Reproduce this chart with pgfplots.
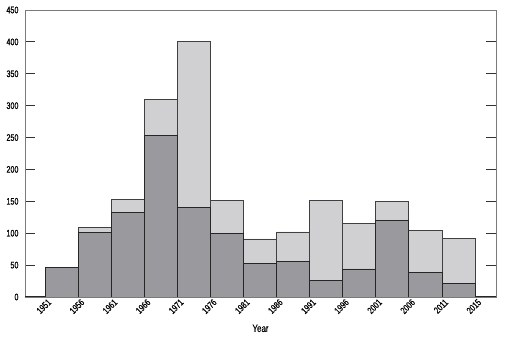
\documentclass[border=0pt]{standalone}
\usepackage{fontspec}
\setmainfont{Liberation Sans}[FakeStretch=0.76, FakeBold=0.6]
\usepackage{pgfplots}
\pgfplotsset{compat=1.18}
\definecolor{darkbar}{HTML}{9A9A9E}
\definecolor{lightbar}{HTML}{D0D0D3}
\definecolor{axgray}{HTML}{7A7A7A}
\begin{document}
\begin{tikzpicture}
\path[use as bounding box] (-25bp,-55bp) rectangle (492bp,297bp);
\begin{axis}[
  at={(0,0)}, anchor=south west,
  scale only axis, width=471bp, height=287bp,
  xmin=-0.605, xmax=13.635, ymin=0, ymax=450,
  ybar stacked, bar width=1, bar shift=0,
  xtick={0,...,13},
  xticklabels={1951,1956,1961,1966,1971,1976,1981,1986,1991,1996,2001,2006,2011,2015},
  xtick style={draw=none},
  ytick={0,50,...,450},
  ytick pos=both, tick align=inside,
  major tick length=10bp,
  ytick style={black!80, line width=0.8pt},
  axis line style={axgray, line width=0.8pt},
  /pgf/number format/assume math mode=true,
  tick label style={font=\fontsize{9.5}{10}\selectfont},
  yticklabel style={xshift=-3bp},
  xticklabel style={rotate=45, anchor=north east, xshift=4bp, yshift=1bp},
  xlabel={Year},
  xlabel style={font=\fontsize{10.5}{12}\selectfont, yshift=-2bp},
]
\addplot[fill=darkbar, draw=black!85, line width=0.8pt] coordinates {
(0.5,46) (1.5,101) (2.5,132) (3.5,253) (4.5,140) (5.5,100) (6.5,52)
(7.5,56) (8.5,26) (9.5,44) (10.5,120) (11.5,39) (12.5,21)};
\addplot[fill=lightbar, draw=black!75, line width=0.8pt] coordinates {
(0.5,0) (1.5,8) (2.5,21) (3.5,57) (4.5,260) (5.5,51) (6.5,39)
(7.5,46) (8.5,125) (9.5,72) (10.5,30) (11.5,65) (12.5,71)};
\draw[black!85, line width=1.2pt] (rel axis cs:0,0) -- (rel axis cs:1,0);
\end{axis}
\end{tikzpicture}
\end{document}
